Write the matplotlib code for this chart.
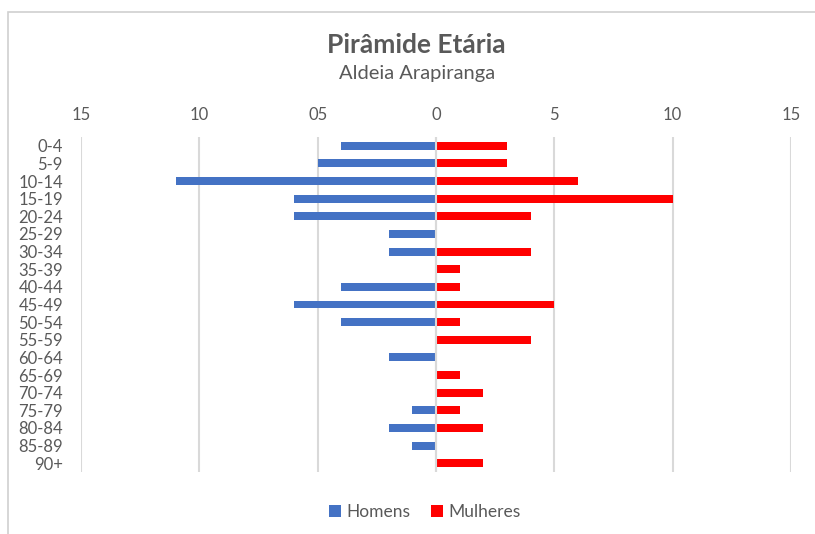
import matplotlib
matplotlib.use("Agg")
import matplotlib.pyplot as plt
import numpy as np
from matplotlib.patches import Rectangle

# age groups, top to bottom
faixas = ["0-4", "5-9", "10-14", "15-19", "20-24", "25-29", "30-34", "35-39",
          "40-44", "45-49", "50-54", "55-59", "60-64", "65-69", "70-74",
          "75-79", "80-84", "85-89", "90+"]
homens = [4, 5, 11, 6, 6, 2, 2, 0, 4, 6, 4, 0, 2, 0, 0, 1, 2, 1, 0]
mulheres = [3, 3, 6, 10, 4, 0, 4, 1, 1, 5, 1, 4, 0, 1, 2, 1, 2, 0, 2]
tick_vals = [-15, -10, -5, 0, 5, 10, 15]
tick_labels = ["15", "10", "05", "0", "5", "10", "15"]

plt.rcParams['font.family'] = ['Lato', 'DejaVu Sans']
cinza = "#595959"

fig = plt.figure(figsize=(8.15, 5.34), dpi=100)
ax = fig.add_axes([81/815, 1 - 472/534, 710/815, 335/534])

y = np.arange(len(faixas))
ax.barh(y, -np.array(homens), height=0.45, color="#4472C4", label="Homens", zorder=3)
ax.barh(y, mulheres, height=0.45, color="#FF0000", label="Mulheres", zorder=3)
ax.axvline(0, color="#D9D9D9", linewidth=1.5, zorder=4)

ax.set_xlim(-15, 15)
ax.set_ylim(len(faixas) - 0.5, -0.5)
ax.set_xticks(tick_vals)
ax.set_xticklabels(tick_labels)
ax.xaxis.tick_top()
ax.set_yticks(y)
ax.set_yticklabels(faixas)
ax.tick_params(axis="both", length=0, colors=cinza, labelsize=12)
ax.tick_params(axis="x", pad=10)
ax.tick_params(axis="y", pad=13)
ax.grid(axis="x", color="#D9D9D9", linewidth=1.5, zorder=0)
for s in ax.spines.values():
    s.set_visible(False)

fig.text(416/815, 1 - 45/534, "Pirâmide Etária", ha="center", va="center",
         fontsize=19, fontweight="bold", color=cinza)
fig.text(417/815, 1 - 74/534, "Aldeia Arapiranga", ha="center", va="center",
         fontsize=14.5, color=cinza)

fig.legend(loc="center", bbox_to_anchor=(425/815, 1 - 512/534), ncol=2, frameon=False,
           fontsize=12.5, labelcolor=cinza, handlelength=0.7, handleheight=0.7,
           handletextpad=0.3, columnspacing=1.2)

# chart frame (cropped on right and bottom)
fig.patches.append(Rectangle((8/815, -0.1), 1.2, 1 - 12/534 + 0.1, transform=fig.transFigure,
                             fill=False, edgecolor="#D0D0D0", linewidth=1.2))

fig.savefig("out.png", dpi=100)
